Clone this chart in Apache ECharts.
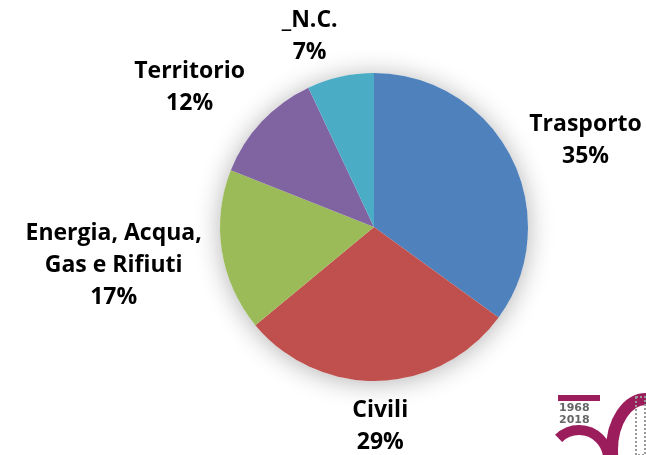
<!DOCTYPE html>
<html>
<head>
<meta charset="utf-8">
<script src="https://cdn.jsdelivr.net/npm/echarts@6/dist/echarts.min.js"></script>
<style>
  html, body { margin: 0; padding: 0; background: #fff; }
  #chart { width: 646px; height: 455px; }
</style>
</head>
<body>
<div id="chart"></div>
<script>
// dati
var categories = ["Trasporto", "Civili", "Energia, Acqua,\nGas e Rifiuti", "Territorio", "_N.C."];
var shares = [35, 29, 17, 12, 7];
var colors = ["#4F81BD", "#C0504D", "#9BBB59", "#8064A2", "#4BACC6"];

(function() {
    var myChart = echarts.init(document.getElementById("chart"));

    // geometria della torta
    var CX = 374, CY = 227, R = 154, GAP = 12;
    // piccoli aggiustamenti delle etichette (come il "best fit" di Excel)
    var nudge = [[6, 18], [0, 1], [-3, -2], [-18, 17], [-20, 8]];
    var total = shares.reduce(function(a, b) { return a + b; }, 0);

    // angolo medio di ogni fetta (dall'alto, senso orario)
    function midAngle(i) {
        var before = 0;
        for (var k = 0; k < i; k++) before += shares[k];
        return (before + shares[i] / 2) / total * Math.PI * 2;
    }

    var option = {
        backgroundColor: "#fff",
        animation: false,
        series: [{
            // ombra dietro la torta
            type: "pie",
            silent: true,
            center: [CX, CY],
            radius: R,
            z: 1,
            label: { show: false },
            labelLine: { show: false },
            itemStyle: {
                color: "#fff",
                shadowBlur: 26,
                shadowColor: "rgba(0,0,0,0.3)",
                shadowOffsetY: 2
            },
            data: [{ value: 1 }]
        }, {
            type: "pie",
            center: [CX, CY],
            radius: R,
            startAngle: 90,
            clockwise: true,
            avoidLabelOverlap: false,
            z: 2,
            color: colors,
            label: {
                show: true,
                position: "outside",
                formatter: "{b}\n{d}%",
                fontFamily: "Open Sans",
                fontWeight: "bold",
                fontSize: 23,
                lineHeight: 32,
                color: "#000"
            },
            labelLine: { show: false },
            // etichette centrate appena fuori dal bordo
            labelLayout: function(params) {
                var i = params.dataIndex;
                var a = midAngle(i);
                var w = params.labelRect.width, h = params.labelRect.height;
                var d = R + GAP + Math.abs(Math.sin(a)) * w / 2 + Math.abs(Math.cos(a)) * h / 2;
                return {
                    x: CX + d * Math.sin(a) + nudge[i][0],
                    y: CY - d * Math.cos(a) + nudge[i][1],
                    align: "center",
                    verticalAlign: "middle"
                };
            },
            data: categories.map(function(name, i) {
                return { name: name, value: shares[i] };
            })
        }],
        // logo 50 anni
        graphic: [{
            type: "rect",
            shape: { x: 558, y: 395, width: 42, height: 6 },
            style: { fill: "#9C1D5C" }
        }, {
            type: "text",
            left: 559, top: 402,
            style: { text: "1968\n2018", fontFamily: "DejaVu Sans", fontWeight: "bold", fontSize: 11, lineHeight: 12, fill: "#666" }
        }, {
            type: "arc",
            shape: { cx: 579, cy: 459, r: 29, startAngle: -2.35, endAngle: 1.3 },
            style: { stroke: "#9C1D5C", lineWidth: 10, fill: "none" }
        }, {
            type: "ellipse",
            shape: { cx: 646, cy: 450, rx: 34, ry: 51 },
            style: { stroke: "#9C1D5C", lineWidth: 12, fill: "none" }
        }, {
            type: "rect",
            shape: { x: 636, y: 397, width: 9, height: 58 },
            style: { fill: "none", stroke: "#999", lineWidth: 2, lineDash: [2, 2] }
        }]
    };

    myChart.setOption(option);
    window.addEventListener("resize", function() {
        myChart.resize();
    });
})();
</script>
</body>
</html>
